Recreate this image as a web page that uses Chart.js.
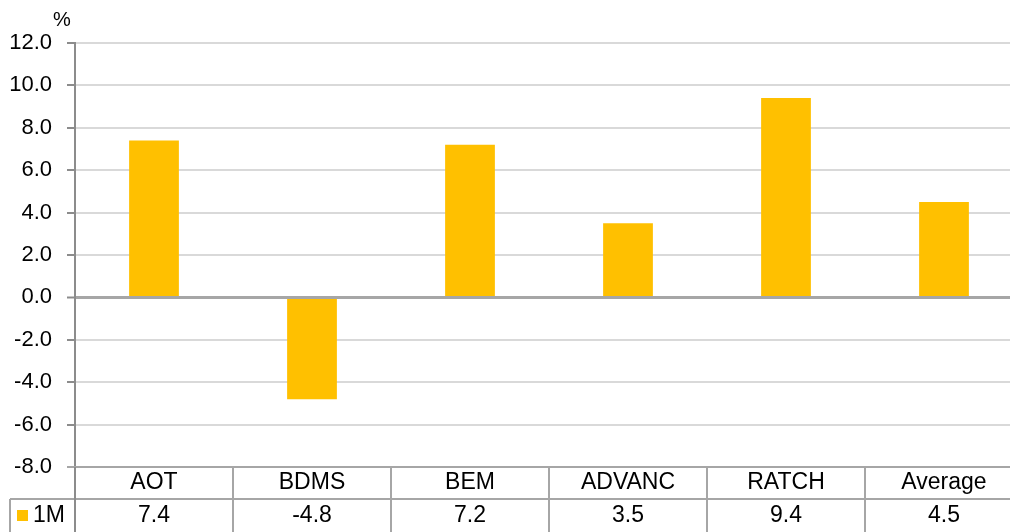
<!DOCTYPE html>
<html>
<head>
<meta charset="utf-8">
<script src="https://cdn.jsdelivr.net/npm/chart.js@4/dist/chart.umd.min.js"></script>
<style>
  html, body { margin: 0; padding: 0; background: #fff; overflow: hidden; }
  #wrap { width: 1010px; height: 532px; overflow: hidden; }
</style>
</head>
<body>
<div id="wrap"><canvas id="chart" width="1023" height="532"></canvas></div>
<script>
// Dados do gráfico
const categories = ['AOT', 'BDMS', 'BEM', 'ADVANC', 'RATCH', 'Average'];
const seriesName = '1M';
const seriesValues = [7.4, -4.8, 7.2, 3.5, 9.4, 4.5];
const yMin = -8;
const yMax = 12;
const yStep = 2;
const unitLabel = '%';

const barColor = '#FFC000';
const fontFamily = '"Liberation Sans", Arial, sans-serif';

// Desenha a tabela de dados abaixo do gráfico e o rótulo de unidade
const dataTablePlugin = {
    id: 'dataTable',
    afterDraw(chart) {
        const ctx = chart.ctx;
        const area = chart.chartArea;
        const x = chart.scales.x;
        const h = chart.height;
        const row1Top = area.bottom;
        const row2Top = area.bottom + 32;
        const legendLeft = 10;

        ctx.save();
        ctx.strokeStyle = '#a6a6a6';
        ctx.lineWidth = 2;

        // linhas horizontais
        ctx.beginPath();
        ctx.moveTo(area.left - 8, row1Top);
        ctx.lineTo(area.right, row1Top);
        ctx.moveTo(legendLeft, row2Top);
        ctx.lineTo(area.right, row2Top);
        // borda esquerda da legenda
        ctx.moveTo(legendLeft, row2Top);
        ctx.lineTo(legendLeft, h);
        // divisões das categorias
        const half = (x.getPixelForValue(1) - x.getPixelForValue(0)) / 2;
        for (let i = 0; i <= categories.length; i++) {
            const px = i < categories.length ? x.getPixelForValue(i) - half : x.getPixelForValue(i - 1) + half;
            ctx.moveTo(px, row1Top);
            ctx.lineTo(px, h);
        }
        ctx.stroke();

        // eixo y continua pela tabela
        ctx.strokeStyle = '#8c8c8c';
        ctx.beginPath();
        ctx.moveTo(area.left, row1Top);
        ctx.lineTo(area.left, h);
        ctx.stroke();

        // textos
        ctx.fillStyle = '#000';
        ctx.font = '23px ' + fontFamily;
        ctx.textAlign = 'center';
        ctx.textBaseline = 'middle';
        categories.forEach((c, i) => {
            ctx.fillText(c, x.getPixelForValue(i), row1Top + 16);
        });
        seriesValues.forEach((v, i) => {
            ctx.fillText(v.toFixed(1), x.getPixelForValue(i), row2Top + 17);
        });

        // legenda da série
        ctx.fillStyle = barColor;
        ctx.fillRect(legendLeft + 7, row2Top + 11, 11, 11);
        ctx.fillStyle = '#000';
        ctx.textAlign = 'left';
        ctx.fillText(seriesName, legendLeft + 23, row2Top + 17);

        // unidade
        ctx.font = '20px ' + fontFamily;
        ctx.textAlign = 'center';
        ctx.fillText(unitLabel, area.left - 13, area.top - 23);
        ctx.restore();
    }
};

const ctx = document.getElementById('chart').getContext('2d');
const myChart = new Chart(ctx, {
    type: 'bar',
    data: {
        labels: categories,
        datasets: [{
            label: seriesName,
            data: seriesValues,
            backgroundColor: barColor,
            borderWidth: 0,
            categoryPercentage: 1,
            barPercentage: 0.315
        }]
    },
    options: {
        responsive: false,
        animation: false,
        layout: { padding: { top: 43, left: 0, right: 0, bottom: 0 } },
        plugins: {
            legend: { display: false },
            tooltip: { enabled: false }
        },
        scales: {
            x: {
                grid: { display: false },
                border: { display: false },
                ticks: { display: false },
                afterFit: scale => { scale.height = 65; }
            },
            y: {
                min: yMin,
                max: yMax,
                ticks: {
                    stepSize: yStep,
                    padding: 15,
                    color: '#000',
                    font: { family: fontFamily, size: 22 },
                    callback: v => v.toFixed(1)
                },
                grid: {
                    color: c => (c.tick && (c.tick.value === 0 || c.tick.value === yMin)) ? '#a6a6a6' : '#d9d9d9',
                    lineWidth: c => (c.tick && c.tick.value === 0) ? 3 : 2,
                    tickColor: '#8c8c8c',
                    tickLength: 8,
                    tickWidth: 2
                },
                border: { color: '#8c8c8c', width: 2 },
                afterFit: scale => { scale.width = 75; }
            }
        }
    },
    plugins: [dataTablePlugin]
});
</script>
</body>
</html>
